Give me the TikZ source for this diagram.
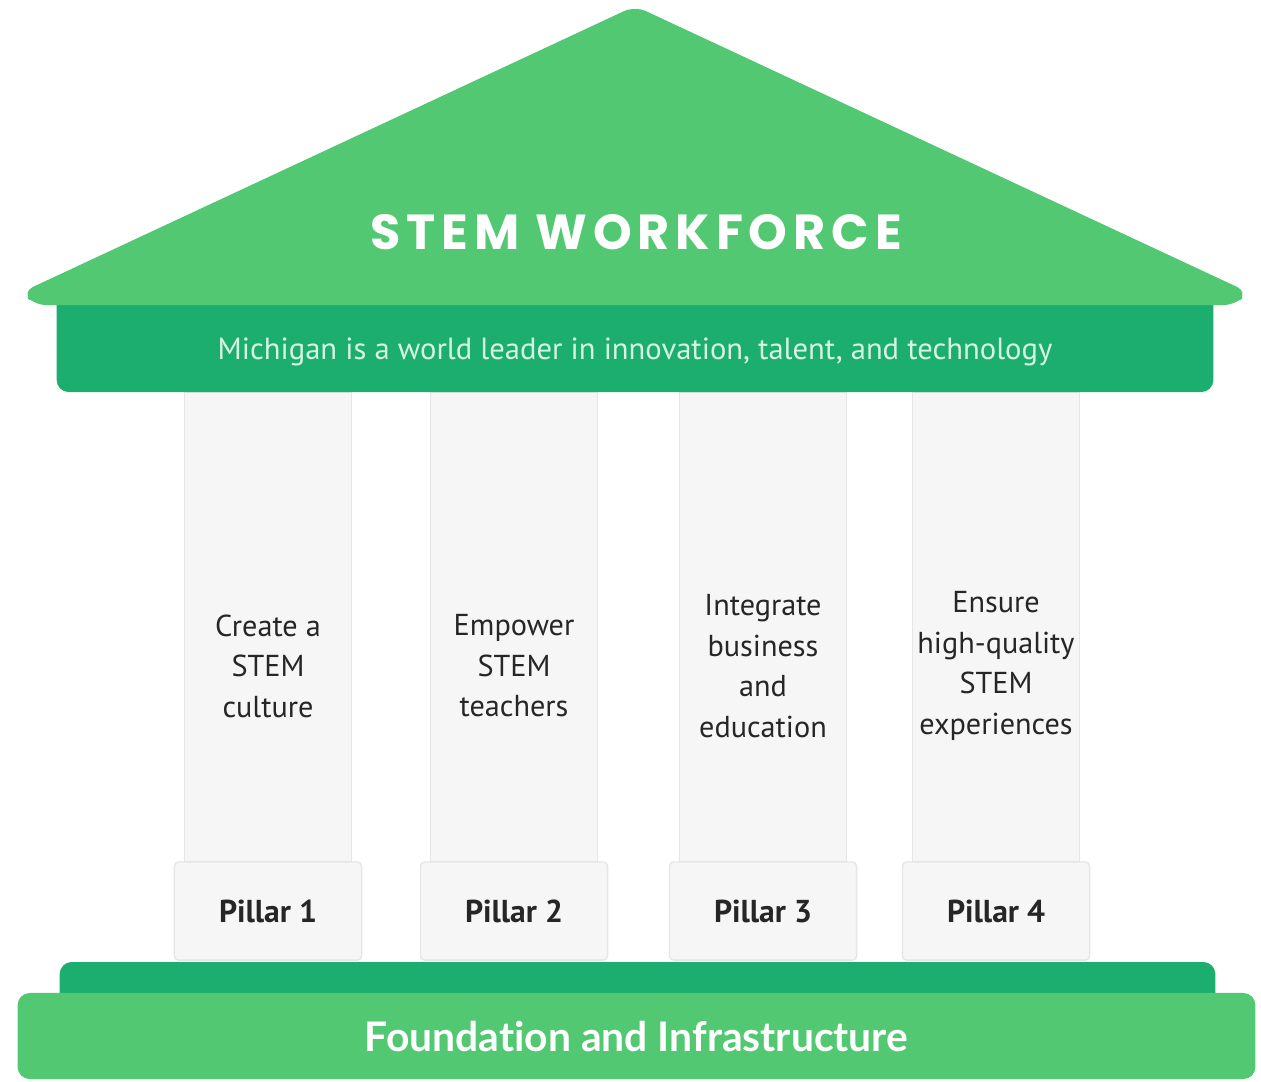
\documentclass[tikz,border=0pt]{standalone}
\usepackage{fontspec}
\setmainfont{PT Sans}
\newfontfamily\headfont[LetterSpace=12]{Poppins}
\newfontfamily\basefont[Ligatures=NoCommon]{Lato}
\usepackage{tikz}
\usetikzlibrary{shadows}
\definecolor{roofgreen}{HTML}{52C873}
\definecolor{bandgreen}{HTML}{1BAE6F}
\definecolor{mottotext}{HTML}{D6F4E2}
\definecolor{columngray}{HTML}{F6F6F6}
\definecolor{columnedge}{HTML}{E6E6E6}
\definecolor{inkgray}{HTML}{262626}
\tikzset{x=0.01cm, y=-0.01cm,
	shaft/.style={draw=columnedge, fill=columngray, minimum width=1.67cm, minimum height=4.7cm, inner sep=0pt, drop shadow={opacity=0.10, shadow xshift=0pt, shadow yshift=-2pt}},
	plinth/.style={draw=columnedge, fill=columngray, rounded corners=0.04cm, minimum width=1.87cm, minimum height=0.98cm, inner sep=0pt, text=inkgray, font=\fontsize{9}{11}\selectfont\bfseries},
	caption/.style={align=center, text=inkgray, font=\fontsize{8.6}{11.5}\selectfont},
	band/.style={fill=bandgreen, rounded corners=0.12cm, inner sep=0pt},
	slab/.style={fill=roofgreen, rounded corners=0.12cm, inner sep=0pt}}

\begin{document}
\begin{tikzpicture}
	\useasboundingbox (0,0) rectangle (1261,1081);
	\foreach \n/\x/\txt in {1/268/{Create a\\STEM\\culture}, 2/514/{Empower\\STEM\\teachers}, 3/763/{Integrate\\business\\and\\education}, 4/996/{Ensure\\high-quality\\STEM\\experiences}} {
		\node[shaft] (shaft\n) at (\x,627) {};
		\node[plinth] (plinth\n) at (\x,911) {Pillar \n};
		\node[caption] (text\n) at (\x,666) {\txt};
	}
	\node[band, minimum width=11.55cm, minimum height=0.6cm] (baseband) at (637.5,992) {};
	\node[slab, minimum width=12.37cm, minimum height=0.86cm, text=white, font=\basefont\bfseries\fontsize{11.6}{13}\selectfont] (foundation) at (636.5,1036) {Foundation and Infrastructure};
	\node[band, minimum width=11.56cm, minimum height=1.0cm] (architrave) at (635,342) {};
	\node[text=mottotext, font=\fontsize{8.7}{10}\selectfont] (motto) at (635,352) {Michigan is a world leader in innovation, talent, and technology};
	\fill[roofgreen, rounded corners=0.12cm] (34,305) -- (22,292) -- (635,6) -- (1248,292) -- (1236,305) -- cycle;
	\node[text=white, font=\headfont\bfseries\fontsize{14}{16}\selectfont] (title) at (636,232) {STEM WORKFORCE};
\end{tikzpicture}
\end{document}
